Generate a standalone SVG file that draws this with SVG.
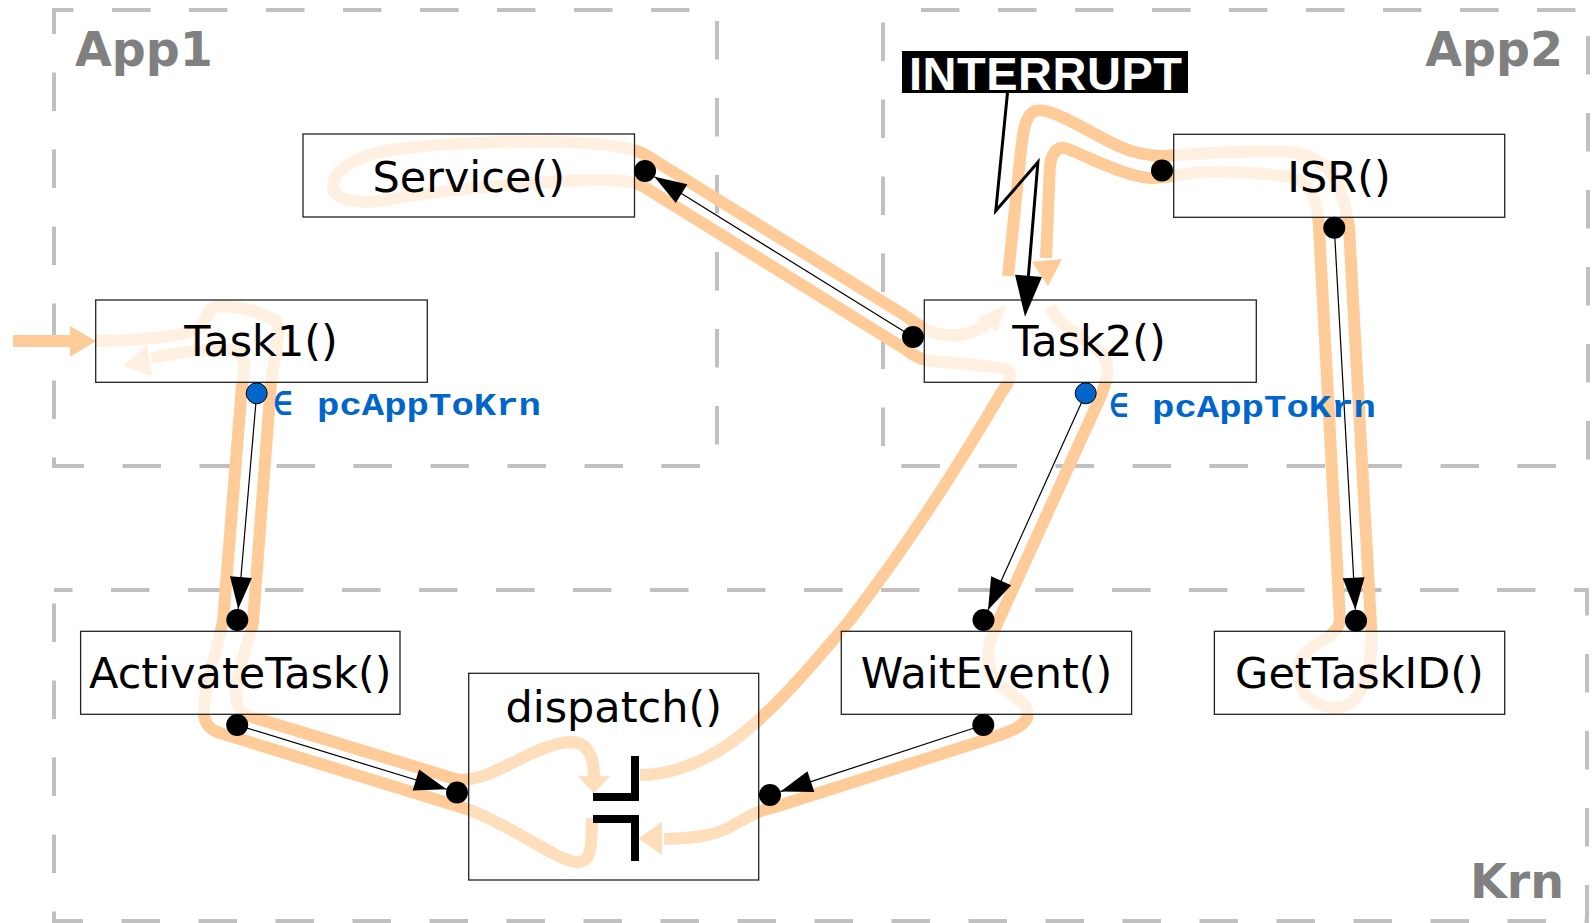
<svg xmlns="http://www.w3.org/2000/svg" width="1594" height="923" viewBox="0 0 1594 923">
  <defs>
    <style>
      .lane{fill:none;stroke:#c0c0c0;stroke-width:4;stroke-dasharray:38.5 38.5}
      .lanelabel{font-family:"DejaVu Sans",sans-serif;font-weight:bold;font-size:47.5px;fill:#808080}
      .flow{fill:none;stroke:#ffcc99;stroke-width:12;stroke-linejoin:round}
      .flowhead{fill:#ffcc99}
      .box{fill:#fff;fill-opacity:0.7;stroke:#222;stroke-width:1.3}
      .box.kernel{fill-opacity:0.35}
      .label{font-family:"DejaVu Sans",sans-serif;font-size:43px;fill:#000;text-anchor:middle}
      .call{fill:none;stroke:#000;stroke-width:1.2;marker-end:url(#arr)}
      .dot{fill:#000}
      .pdot{fill:#0066cc;stroke:#000;stroke-width:1}
      .ptr{font-family:"Liberation Mono","DejaVu Sans Mono",monospace;font-weight:bold;font-size:32px;fill:#0066cc}
      .bracket{fill:none;stroke:#000;stroke-width:8;stroke-linejoin:miter}
    </style>
    <marker id="arr" markerUnits="userSpaceOnUse" markerWidth="32" markerHeight="22" refX="32" refY="11" orient="auto" overflow="visible">
      <path d="M0,0 L32,11 L0,22 z" fill="#000"/>
    </marker>
  </defs>

  <rect width="1594" height="923" fill="#fff"/>

  <!-- partitions -->
  <g id="lanes">
    <rect class="lane" x="54" y="10" width="663" height="456" stroke-dashoffset="19"/>
    <rect class="lane" x="883" y="10" width="705" height="456" stroke-dashoffset="39"/>
    <rect class="lane" x="54" y="590" width="1533" height="331" stroke-dashoffset="20"/>
  </g>

  <!-- execution flow -->
  <g id="flow">
    <path class="flow" d="M13 341 H71"/>
    <polygon class="flowhead" points="70,326 96,341 70,357"/>
    <path class="flow" d="M96 341 C140 341 185 336 200 328 C208 318 206 307 220 306 C240 306 262 313 275 320 C283 328 274 355 271 382 L253 622 C250 640 238 665 236 690 C235 706 240 714 252 717 L457 779.5 C490 784 530 745 570 742 C588 741 594 758 594 777"/>
    <polygon class="flowhead" points="578,776 594,793.5 610,776"/>

    <path class="flow" d="M592 818 C592 850 590 863 577 862 C555 860 520 830 470 810 L220 733 C208 729 204 722 204 712 C204 690 214 660 223 622 L242 385 C246 365 246 352 232 350 C210 348 180 352 152 358"/>
    <polygon class="flowhead" points="147,345 123,366 152,376"/>

    <path class="flow" d="M640 775 C665 775 690 768 720 750 C760 725 800 680 850 620 C900 555 950 480 1000 395 C1007 384 1016 374 1005 369 C995 366 960 364 930 361 C918 359 910 353 905 349 L645 187.5 C635 181 620 180 595 180 C540 181 440 190 386 200 C360 205 335 200 333 188 C332 172 350 160 380 152 C420 144 500 141 560 142 C600 143 630 146 645 154.5 L905 315.5 C915 322 925 333 945 335 C965 337 978 330 988 324"/>
    <polygon class="flowhead" points="977,318 1006,305 997,332"/>

    <path class="flow" d="M1008 276 L1020 160 C1023 130 1025 115 1035 111 C1045 108 1060 115 1093 133 C1115 145 1130 154 1160 156 C1200 154 1250 149 1290 152 C1318 155 1335 170 1342 195 C1346 210 1348 218 1349 228 L1371 625 C1373 650 1370 685 1352 702 C1340 712 1318 708 1306 695 C1296 682 1296 662 1306 652 C1320 640 1338 635 1340 620 L1319 228 C1318 210 1315 190 1302 182 C1290 174 1250 172 1210 172 C1185 172 1170 178 1150 178 C1125 176 1090 158 1068 149 C1058 145 1052 152 1050 165 L1046 258"/>
    <polygon class="flowhead" points="1032,262 1048,286 1062,259"/>

    <path class="flow" d="M1050 307 C1056 322 1080 336 1100 352 C1112 363 1108 380 1099 400 L997 624 C990 640 982 660 995 680 C1008 695 1032 702 1027 718 C1023 728 1005 733 988 739 L775 807 C755 811 745 819 728 828 C710 837 690 838 664 839"/>
    <polygon class="flowhead" points="662,822 638,838.5 662,855"/>
  </g>

  <!-- nodes -->
  <g id="service">
    <rect class="box" x="303" y="134" width="331.5" height="83"/>
    <text class="label" x="468.7" y="191.5">Service()</text>
  </g>
  <g id="task1">
    <rect class="box" x="95.7" y="300" width="331.6" height="82.3"/>
    <text class="label" x="261" y="356">Task1()</text>
  </g>
  <g id="task2">
    <rect class="box" x="924.3" y="300" width="332" height="82.3"/>
    <text class="label" x="1089" y="356">Task2()</text>
  </g>
  <g id="isr">
    <rect class="box" x="1173.7" y="134.3" width="331" height="83"/>
    <text class="label" x="1339" y="191.7">ISR()</text>
  </g>
  <g id="activatetask">
    <rect class="box" x="80.6" y="631.3" width="319.4" height="83"/>
    <text class="label" x="240.3" y="687.7">ActivateTask()</text>
  </g>
  <g id="dispatch">
    <rect class="box kernel" x="468.7" y="673.3" width="290" height="206.7"/>
    <text class="label" x="613.7" y="721.7">dispatch()</text>
    <path class="bracket" d="M593 797 H635 V756"/>
    <path class="bracket" d="M593 819 H635 V861"/>
  </g>
  <g id="waitevent">
    <rect class="box" x="841.3" y="631.3" width="290.3" height="83"/>
    <text class="label" x="986.5" y="687.7">WaitEvent()</text>
  </g>
  <g id="gettaskid">
    <rect class="box" x="1214.4" y="631.3" width="290.3" height="83"/>
    <text class="label" x="1359.5" y="687.7">GetTaskID()</text>
  </g>

  <!-- calls -->
  <g id="connectors">
    <line class="call" x1="913" y1="337" x2="654.4" y2="176.8"/>
    <line class="call" x1="256.7" y1="393.3" x2="238.2" y2="609"/>
    <line class="call" x1="1085.7" y1="393.3" x2="988" y2="610"/>
    <line class="call" x1="1334.3" y1="227.7" x2="1355.4" y2="609.7"/>
    <line class="call" x1="237.2" y1="725" x2="446.5" y2="789.3"/>
    <line class="call" x1="983.3" y1="725" x2="780.5" y2="791.6"/>
    <circle class="dot" cx="645" cy="171" r="11"/>
    <circle class="dot" cx="913" cy="337" r="11"/>
    <circle class="dot" cx="1162" cy="170.5" r="11"/>
    <circle class="dot" cx="1334.3" cy="227.7" r="11"/>
    <circle class="dot" cx="237.3" cy="620" r="11"/>
    <circle class="dot" cx="237.2" cy="725" r="11"/>
    <circle class="dot" cx="457" cy="792.5" r="11"/>
    <circle class="dot" cx="770" cy="795" r="11"/>
    <circle class="dot" cx="983.5" cy="620" r="11"/>
    <circle class="dot" cx="983.3" cy="725" r="11"/>
    <circle class="dot" cx="1356" cy="620.7" r="11"/>
    <circle class="pdot" cx="256.7" cy="393.3" r="10.5"/>
    <circle class="pdot" cx="1085.7" cy="393.3" r="10.5"/>
  </g>

  <!-- pointer-table labels -->
  <text class="ptr" x="273" y="415">∈ <tspan x="317" textLength="224" lengthAdjust="spacingAndGlyphs">pcAppToKrn</tspan></text>
  <text class="ptr" x="1109" y="417">∈ <tspan x="1152" textLength="224" lengthAdjust="spacingAndGlyphs">pcAppToKrn</tspan></text>

  <!-- interrupt -->
  <g id="interrupt">
    <rect x="902" y="51" width="286" height="42" fill="#000"/>
    <text x="909" y="89.5" textLength="273" font-family="'Liberation Sans',Arial,sans-serif" font-weight="bold" font-size="47" fill="#fff">INTERRUPT</text>
    <polyline points="1007.5,92.7 995.8,210.7 1037.9,162.3 1028.4,276" fill="none" stroke="#000" stroke-width="3" stroke-linejoin="miter"/>
    <polygon points="1015,274.7 1025,316.7 1041.9,276.9" fill="#000"/>
  </g>

  <!-- partition names -->
  <text class="lanelabel" x="75" y="66">App1</text>
  <text class="lanelabel" x="1563" y="66" text-anchor="end">App2</text>
  <text class="lanelabel" x="1564" y="898" text-anchor="end">Krn</text>
</svg>
